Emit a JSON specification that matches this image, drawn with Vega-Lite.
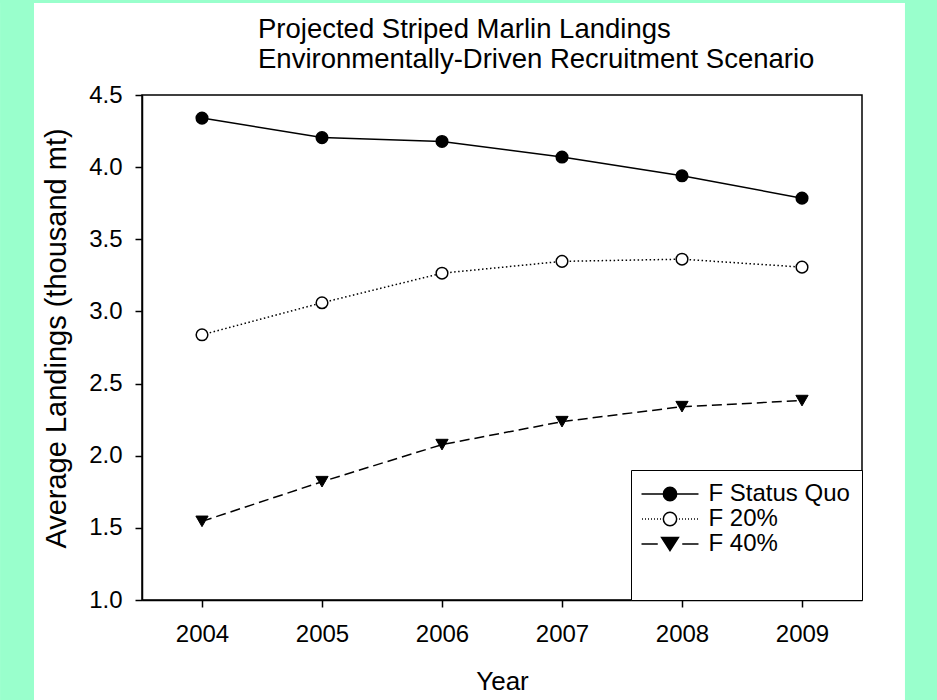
{
  "$schema": "https://vega.github.io/schema/vega-lite/v6.json",
  "width": 720,
  "height": 505,
  "autosize": "none",
  "padding": {"left": 142, "top": 95, "right": 75, "bottom": 100},
  "background": "white",
  "config": {
    "font": "Liberation Sans",
    "view": {"stroke": "black", "strokeWidth": 1.5},
    "axis": {
      "domainColor": "black", "tickColor": "black", "labelColor": "black", "titleColor": "black",
      "labelFont": "Liberation Sans", "titleFont": "Liberation Sans",
      "labelFontSize": 24, "titleFontSize": 29, "titleFontWeight": "normal",
      "tickSize": 7, "domainWidth": 1.5, "tickWidth": 1.5, "grid": false,
      "labelFlush": false, "labelOverlap": false
    },
    "legend": {
      "orient": "bottom-right", "offset": 0,
      "titleOrient": "bottom", "titleFontSize": 21, "titlePadding": 11,
      "padding": 12, "rowPadding": 1,
      "symbolSize": 196, "symbolOffset": 15, "labelOffset": 26.5,
      "symbolStrokeColor": "black", "symbolStrokeWidth": 1.5,
      "labelFont": "Liberation Sans", "labelFontSize": 24, "labelColor": "black",
      "strokeColor": "black", "fillColor": "white"
    }
  },
  "title": {
    "text": ["Projected Striped Marlin Landings", "Environmentally-Driven Recruitment Scenario"],
    "anchor": "start", "frame": "group", "dx": 116,
    "fontSize": 27.5, "font": "Liberation Sans", "fontWeight": "normal", "color": "black",
    "lineHeight": 30, "offset": -73
  },
  "layer": [
    {
      "data": {"values": [
        {"year": 2004, "series": "SQ", "value": 4.34},
        {"year": 2005, "series": "SQ", "value": 4.205},
        {"year": 2006, "series": "SQ", "value": 4.178},
        {"year": 2007, "series": "SQ", "value": 4.07},
        {"year": 2008, "series": "SQ", "value": 3.94},
        {"year": 2009, "series": "SQ", "value": 3.785},
        {"year": 2004, "series": "F20", "value": 2.838},
        {"year": 2005, "series": "F20", "value": 3.06},
        {"year": 2006, "series": "F20", "value": 3.265},
        {"year": 2007, "series": "F20", "value": 3.347},
        {"year": 2008, "series": "F20", "value": 3.362},
        {"year": 2009, "series": "F20", "value": 3.307},
        {"year": 2004, "series": "F40", "value": 1.545},
        {"year": 2005, "series": "F40", "value": 1.82},
        {"year": 2006, "series": "F40", "value": 2.077},
        {"year": 2007, "series": "F40", "value": 2.236},
        {"year": 2008, "series": "F40", "value": 2.34},
        {"year": 2009, "series": "F40", "value": 2.382}
      ]},
      "encoding": {
        "x": {
          "field": "year", "type": "quantitative",
          "scale": {"domain": [2003.5, 2009.5], "nice": false, "zero": false},
          "axis": {"values": [2004, 2005, 2006, 2007, 2008, 2009], "format": "d", "title": "Year", "titleFontSize": 26, "labelPadding": 15, "titlePadding": 22}
        },
        "y": {
          "field": "value", "type": "quantitative",
          "scale": {"domain": [1, 4.5], "nice": false, "zero": false},
          "axis": {
            "values": [1, 1.25, 1.5, 1.75, 2, 2.25, 2.5, 2.75, 3, 3.25, 3.5, 3.75, 4, 4.25, 4.5],
            "labelExpr": "(datum.value * 2) % 1 == 0 ? format(datum.value, '.1f') : ''",
            "title": "Average Landings (thousand mt)", "labelPadding": 13, "titlePadding": 17, "titleY": 243
          }
        }
      },
      "layer": [
        {
          "transform": [{"filter": "datum.series === 'SQ'"}],
          "mark": {"type": "line", "color": "black", "strokeWidth": 1.5},
          "encoding": {}
        },
        {
          "transform": [{"filter": "datum.series === 'F20'"}],
          "mark": {"type": "line", "color": "black", "strokeWidth": 1.5, "strokeDash": [1.5, 2.5]},
          "encoding": {}
        },
        {
          "transform": [{"filter": "datum.series === 'F40'"}],
          "mark": {"type": "line", "color": "black", "strokeWidth": 1.5, "strokeDash": [10, 5]},
          "encoding": {}
        },
        {
          "transform": [{"filter": "datum.series === 'F40'"}],
          "mark": {"type": "point", "shape": "triangle-down", "filled": true, "opacity": 1, "fill": "black", "stroke": "black", "strokeWidth": 1, "size": 150},
          "encoding": {}
        },
        {
          "transform": [{"filter": "datum.series !== 'F40'"}],
          "mark": {"type": "point", "shape": "circle", "filled": true, "opacity": 1, "stroke": "black", "strokeWidth": 1.5, "size": 135},
          "encoding": {
            "fill": {
              "field": "series", "type": "nominal",
              "scale": {"domain": ["SQ", "F20", "F40"], "range": ["black", "white", "black"]}
            }
          }
        },
        {
          "transform": [{"filter": "false"}],
          "mark": {"type": "point", "filled": true, "opacity": 1, "stroke": "black", "strokeWidth": 1.5},
          "encoding": {
            "shape": {
              "field": "series", "type": "nominal",
              "scale": {"domain": ["SQ", "F20", "F40"], "range": [
                "M-4.07,0H-1M1,0H4.07M0.95,0C0.95,0.525,0.525,0.95,0,0.95C-0.525,0.95,-0.95,0.525,-0.95,0C-0.95,-0.525,-0.525,-0.95,0,-0.95C0.525,-0.95,0.95,-0.525,0.95,0Z",
                "M-4,0H-3.86M-3.57,0H-3.43M-3.14,0H-3M-2.71,0H-2.57M-2.28,0H-2.14M-1.85,0H-1.71M-1.42,0H-1.28M1.28,0H1.42M1.71,0H1.85M2.14,0H2.28M2.57,0H2.71M3,0H3.14M3.43,0H3.57M3.86,0H4M0.95,0C0.95,0.525,0.525,0.95,0,0.95C-0.525,0.95,-0.95,0.525,-0.95,0C-0.95,-0.525,-0.525,-0.95,0,-0.95C0.525,-0.95,0.95,-0.525,0.95,0Z",
                "M-4.07,0H-1.75M1.75,0H4.07M0,0.93L1.2,-0.93L-1.2,-0.93Z"
              ]},
              "legend": {
                "title": " ",
                "labelExpr": "datum.value === 'SQ' ? 'F Status Quo\u00a0\u00a0\u00a0' : datum.value === 'F20' ? 'F 20%' : 'F 40%'"
              }
            },
            "fill": {
              "field": "series", "type": "nominal",
              "scale": {"domain": ["SQ", "F20", "F40"], "range": ["black", "white", "black"]},
              "legend": {
                "title": " ",
                "labelExpr": "datum.value === 'SQ' ? 'F Status Quo\u00a0\u00a0\u00a0' : datum.value === 'F20' ? 'F 20%' : 'F 40%'"
              }
            }
          }
        }
      ]
    },
    {
      "data": {"values": [{}]},
      "mark": {"type": "rect", "fill": "#99FFCC"},
      "encoding": {
        "x": {"datum": 2002.317, "type": "quantitative"},
        "x2": {"datum": 2002.6},
        "y": {"datum": 5.158, "type": "quantitative"},
        "y2": {"datum": 0.307}
      }
    },
    {
      "data": {"values": [{}]},
      "mark": {"type": "rect", "fill": "#99FFCC"},
      "encoding": {
        "x": {"datum": 2009.858, "type": "quantitative"},
        "x2": {"datum": 2010.125},
        "y": {"datum": 5.158, "type": "quantitative"},
        "y2": {"datum": 0.307}
      }
    },
    {
      "data": {"values": [{}]},
      "mark": {"type": "rect", "fill": "#99FFCC"},
      "encoding": {
        "x": {"datum": 2002.317, "type": "quantitative"},
        "x2": {"datum": 2010.125},
        "y": {"datum": 5.158, "type": "quantitative"},
        "y2": {"datum": 5.138}
      }
    }
  ]
}
